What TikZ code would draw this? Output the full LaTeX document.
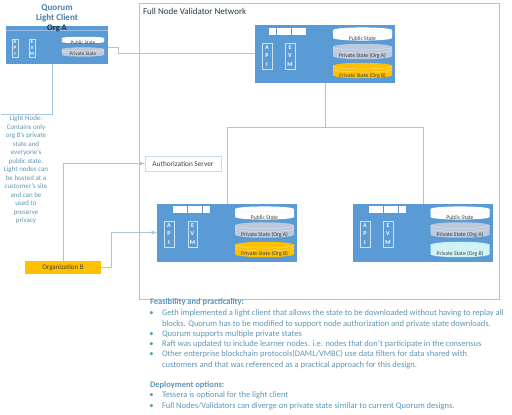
\documentclass[tikz,border=0pt]{standalone}
\usepackage{fontspec}
\setmainfont{Carlito}
\usetikzlibrary{arrows}
\definecolor{nodeblue}{HTML}{5B9BD5}
\definecolor{wireblue}{HTML}{A9C6DB}
\definecolor{textblue}{HTML}{5F96B4}
\definecolor{orgyellow}{HTML}{FFC000}
\definecolor{statecyan}{HTML}{CFF3F6}
\definecolor{stategrey}{HTML}{BCC8DC}
\tikzset{pics/statedisk/.style={code={
  \fill[#1](-29.5,-4.5)--(-29.5,4.5).. controls (-29.5,8.8) and (29.5,8.8) .. (29.5,4.5)--(29.5,-4.5).. controls (29.5,-8.8) and (-29.5,-8.8) .. (-29.5,-4.5);
  \draw[black!6,line width=0.25pt](-29.5,-4.5).. controls (-29.5,-0.5) and (29.5,-0.5) .. (29.5,-4.5);
  \draw[black!6,line width=0.25pt](-29.5,-1.5).. controls (-29.5,2.5) and (29.5,2.5) .. (29.5,-1.5);
}}}
\begin{document}
\begin{tikzpicture}[x=1pt,y=-1pt,
  every node/.style={inner sep=0pt,outer sep=0pt},
  wire/.style={draw=wireblue,line width=0.9pt},
  arrowwire/.style={wire,-latex},
  validator/.style={fill=nodeblue,minimum width=140,minimum height=58},
  slotbox/.style={fill=white,minimum width=7,minimum height=7},
  stackbox/.style={draw=white!70!nodeblue,line width=0.5pt,minimum width=9.5,minimum height=26,align=center,text=white,font=\bfseries\fontsize{6}{8.3}\selectfont},
  statetext/.style={font=\fontsize{5.7}{7}\selectfont,text=black!75},
  body/.style={font=\fontsize{8.5}{10.25}\selectfont,text=textblue,align=left,anchor=north west},
  bodyhead/.style={body,font=\bfseries\fontsize{8.5}{10}\selectfont}]
  \useasboundingbox (0,0) rectangle (512,415);

  \node[draw=wireblue,line width=0.9pt,minimum width=360,minimum height=296] (network) at (319,151){};
  \node[anchor=west,font=\fontsize{9}{10}\selectfont,text=black!60!textblue] (networktitle) at (143,11){Full Node Validator Network};

  % light client
  \node[text=nodeblue!80!black,font=\bfseries\fontsize{9}{10}\selectfont,align=center] (lighttitle) at (57,13){Quorum\\Light Client};
  \node[fill=nodeblue,minimum width=102,minimum height=38] (light) at (57,45){};
  \node[fill=white!35!nodeblue,minimum width=102,minimum height=0.8] (lightbar) at (57,30.5){};
  \node[font=\bfseries\fontsize{8.5}{9}\selectfont,text=black!70!nodeblue] (orga) at (57,28){Org A};
  \node[stackbox,minimum width=6,minimum height=18,font=\bfseries\fontsize{5}{6.2}\selectfont] (lightapi) at (15,48){A\\P\\I};
  \node[stackbox,minimum width=6,minimum height=18,font=\bfseries\fontsize{5}{6.2}\selectfont] (lightevm) at (32,48){E\\V\\M};
  \pic[xscale=0.72,yscale=0.42] at (83,40) {statedisk=white};
  \pic[xscale=0.72,yscale=0.6] at (83,52) {statedisk=stategrey};
  \node[statetext,font=\fontsize{5.2}{6}\selectfont] (lightpubtext) at (83,43){Public State};
  \node[statetext,font=\fontsize{5.2}{6}\selectfont] (lightprivtext) at (83,54){Private State};

  % top validator
  \node[validator] (top) at (325,54){};
  \node[slotbox] (t1) at (272.5,31.5){};
  \node[slotbox] (t2) at (280,31.5){};
  \node[slotbox] (t3) at (287.5,31.5){};
  \node[slotbox] (t4) at (295,31.5){};
  \node[slotbox] (t5) at (302.5,31.5){};
  \node[stackbox] (topapi) at (267,56){A\\P\\I};
  \node[stackbox] (topevm) at (290,56){E\\V\\M};
  \pic[yscale=0.85] at (362.5,34) {statedisk=white};
  \pic at (362.5,51.5) {statedisk=stategrey};
  \pic at (362.5,70.5) {statedisk=orgyellow};
  \node[statetext] (toppubtext) at (362.5,39){Public State};
  \node[statetext] (topatext) at (362.5,56){Private State (Org A)};
  \node[statetext] (topbtext) at (362.5,75.5){Private State (Org B)};

  % lower left validator
  \node[validator] (left) at (227,232.5){};
  \node[slotbox] (l1) at (176,209.5){};
  \node[slotbox] (l2) at (183.5,209.5){};
  \node[slotbox] (l3) at (191,209.5){};
  \node[slotbox] (l4) at (198.5,209.5){};
  \node[slotbox] (l5) at (206,209.5){};
  \node[stackbox] (leftapi) at (169,234){A\\P\\I};
  \node[stackbox] (leftevm) at (192.5,234){E\\V\\M};
  \pic[yscale=0.85] at (264.5,213) {statedisk=white};
  \pic at (264.5,230) {statedisk=stategrey};
  \pic at (264.5,249.5) {statedisk=orgyellow};
  \node[statetext] (leftpubtext) at (264.5,217.5){Public State};
  \node[statetext] (leftatext) at (264.5,235){Private State (Org A)};
  \node[statetext] (leftbtext) at (264.5,253.5){Private State (Org B)};

  % lower right validator
  \node[validator] (right) at (422.5,232.5){};
  \node[slotbox] (r1) at (372,209.5){};
  \node[slotbox] (r2) at (379.5,209.5){};
  \node[slotbox] (r3) at (387,209.5){};
  \node[slotbox] (r4) at (394.5,209.5){};
  \node[slotbox] (r5) at (402,209.5){};
  \node[stackbox] (rightapi) at (365,234){A\\P\\I};
  \node[stackbox] (rightevm) at (388,234){E\\V\\M};
  \pic[yscale=0.85] at (460,213) {statedisk=white};
  \pic at (460,230) {statedisk=stategrey};
  \pic at (460,249.5) {statedisk=statecyan};
  \node[statetext] (rightpubtext) at (460,217.5){Public State};
  \node[statetext] (rightatext) at (460,235){Private State (Org A)};
  \node[statetext] (rightbtext) at (460,253.5){Private State (Org B)};

  % side boxes and notes
  \node[draw=wireblue!60,line width=0.6pt,fill=white,minimum width=76,minimum height=15,font=\fontsize{7.3}{8}\selectfont,text=black!75] (auth) at (183,163.5){Authorization Server};
  \node[fill=orgyellow,minimum width=76,minimum height=13,font=\fontsize{7}{8}\selectfont,text=black!75] (orgb) at (63,267.5){Organization B};
  \node[font=\fontsize{7}{8.5}\selectfont,text=textblue,align=center] (lightnote) at (26,170){Light Node:\\Contains only\\org B's private\\state and\\everyone's\\public state.\\Light nodes can\\be hosted at a\\customer's site\\and can be\\used to\\preserve\\privacy};
  \coordinate (notecorner) at (1,114);
  \node[bodyhead] (feashead) at (150,299){Feasibility and practicality:};
  \node[body] (feastext) at (162,310){\llap{\textbullet\hspace{8.5pt}}Geth implemented a light client that allows the state to be downloaded without having to replay all\\blocks. Quorum has to be modified to support node authorization and private state downloads.\\\llap{\textbullet\hspace{8.5pt}}Quorum supports multiple private states\\\llap{\textbullet\hspace{8.5pt}}Raft was updated to include learner nodes. i.e. nodes that don't participate in the consensus\\\llap{\textbullet\hspace{8.5pt}}Other enterprise blockchain protocols(DAML/VMBC) use data filters for data shared with\\customers and that was referenced as a practical approach for this design.};
  \node[bodyhead] (depthead) at (150,381.5){Deployment options:};
  \node[body] (depttext) at (162,392){\llap{\textbullet\hspace{8.5pt}}Tessera is optional for the light client\\\llap{\textbullet\hspace{8.5pt}}Full Nodes/Validators can diverge on private state similar to current Quorum designs.};

  \draw[wire](light.east|-0,47)-|(118,53)--(top.west|-0,53);
  \draw[wire](light.south-|52,0)--(52,114)--(notecorner);
  \draw[wire](top.south)--(325,127);
  \draw[wire](227,127)--(423,127);
  \draw[wire](227,127)--(left.north-|227,0);
  \draw[wire](423,127)--(right.north-|423,0);
  \draw[arrowwire](orgb.north)--(63,163.5)--(auth.west);
  \draw[arrowwire](orgb.east)-|(111,232.5)--(left.west);
\end{tikzpicture}
\end{document}
